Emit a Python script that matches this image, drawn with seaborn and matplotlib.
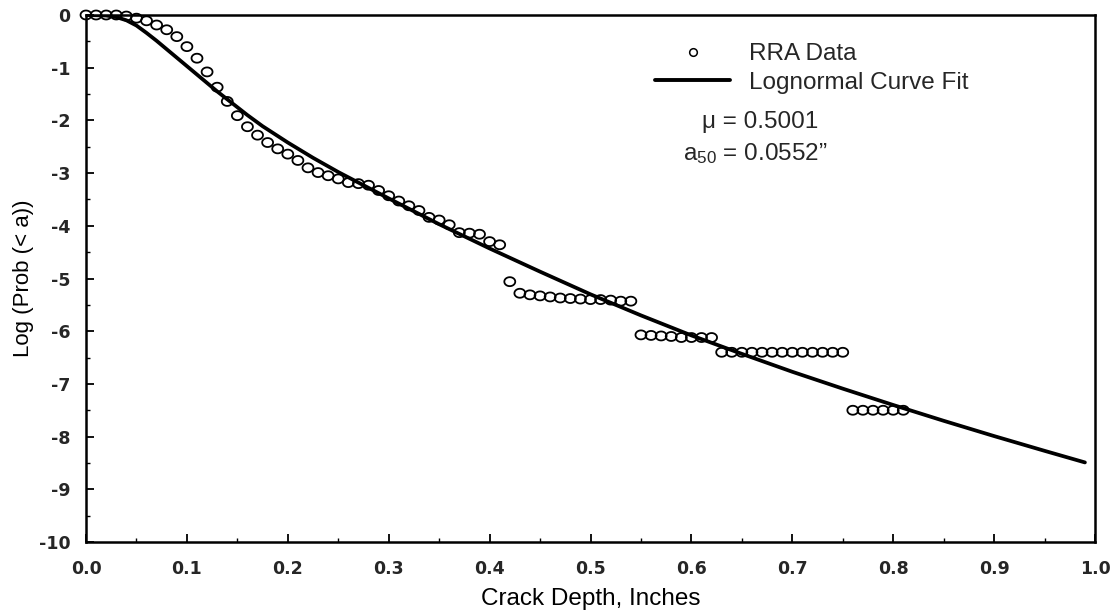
import numpy as np
import pandas as pd
import matplotlib
matplotlib.use("Agg")
import matplotlib.pyplot as plt
import seaborn as sns
from matplotlib.lines import Line2D
from matplotlib.path import Path
from matplotlib.ticker import MultipleLocator

# ---------------- data ----------------
rra_x = [0.00, 0.01, 0.02, 0.03, 0.04, 0.05, 0.06, 0.07, 0.08, 0.09,
         0.10, 0.11, 0.12, 0.13, 0.14, 0.15, 0.16, 0.17, 0.18, 0.19,
         0.20, 0.21, 0.22, 0.23, 0.24, 0.25, 0.26, 0.27, 0.28, 0.29,
         0.30, 0.31, 0.32, 0.33, 0.34, 0.35, 0.36, 0.37, 0.38, 0.39,
         0.40, 0.41, 0.42,
         0.43, 0.44, 0.45, 0.46, 0.47, 0.48, 0.49, 0.50, 0.51, 0.52, 0.53, 0.54,
         0.55, 0.56, 0.57, 0.58, 0.59, 0.60, 0.61, 0.62,
         0.63, 0.64, 0.65, 0.66, 0.67, 0.68, 0.69, 0.70, 0.71, 0.72, 0.73, 0.74, 0.75,
         0.76, 0.77, 0.78, 0.79, 0.80, 0.81]
rra_y = [0.00, 0.00, 0.00, 0.00, -0.02, -0.06, -0.11, -0.19, -0.28, -0.41,
         -0.60, -0.82, -1.08, -1.37, -1.64, -1.91, -2.12, -2.28, -2.42, -2.54,
         -2.64, -2.76, -2.90, -2.99, -3.05, -3.11, -3.18, -3.20, -3.23, -3.33,
         -3.43, -3.53, -3.62, -3.71, -3.84, -3.89, -3.98, -4.13, -4.14, -4.16,
         -4.30, -4.36, -5.06,
         -5.28, -5.31, -5.33, -5.35, -5.37, -5.38, -5.39, -5.40, -5.40, -5.41, -5.43, -5.43,
         -6.07, -6.08, -6.09, -6.10, -6.12, -6.12, -6.12, -6.12,
         -6.40, -6.40, -6.40, -6.40, -6.40, -6.40, -6.40, -6.40, -6.40, -6.40, -6.40, -6.40, -6.40,
         -7.50, -7.50, -7.50, -7.50, -7.50, -7.50]

fit_x = [0.00, 0.02, 0.03, 0.04, 0.05, 0.06, 0.07, 0.08, 0.09, 0.10,
         0.11, 0.12, 0.13, 0.14, 0.15, 0.16, 0.175, 0.20, 0.225, 0.25,
         0.275, 0.30, 0.35, 0.40, 0.45, 0.50, 0.55, 0.60, 0.65, 0.70,
         0.75, 0.80, 0.85, 0.90, 0.95, 0.99]
fit_y = [0.00, -0.01, -0.04, -0.10, -0.20, -0.34, -0.49, -0.65, -0.81, -0.97,
         -1.13, -1.29, -1.45, -1.60, -1.75, -1.90, -2.11, -2.42, -2.71, -2.98,
         -3.23, -3.48, -3.97, -4.43, -4.87, -5.30, -5.70, -6.08, -6.43, -6.77,
         -7.09, -7.40, -7.70, -7.99, -8.27, -8.49]

x_ticks = [0.0, 0.1, 0.2, 0.3, 0.4, 0.5, 0.6, 0.7, 0.8, 0.9, 1.0]
x_tick_labels = ["0.0", "0.1", "0.2", "0.3", "0.4", "0.5", "0.6", "0.7", "0.8", "0.9", "1.0"]
y_ticks = [0, -1, -2, -3, -4, -5, -6, -7, -8, -9, -10]
y_tick_labels = ["0", "-1", "-2", "-3", "-4", "-5", "-6", "-7", "-8", "-9", "-10"]

legend_labels = ["RRA Data", "Lognormal Curve Fit"]
mu_text = "μ = 0.5001"
a50_text = r"a$_{50}$ = 0.0552”"
x_label = "Crack Depth, Inches"
y_label = "Log (Prob (< a))"

rra_df = pd.DataFrame({"x": rra_x, "y": rra_y})
fit_df = pd.DataFrame({"x": fit_x, "y": fit_y})

# ---------------- style ----------------
sns.set_style("ticks")
plt.rcParams["font.family"] = ["Liberation Sans", "DejaVu Sans"]
plt.rcParams["axes.unicode_minus"] = False
plt.rcParams["mathtext.fontset"] = "custom"
plt.rcParams["mathtext.rm"] = "Liberation Sans"
plt.rcParams["mathtext.it"] = "Liberation Sans"

# slightly wide open ellipse marker (the scanned reference is stretched)
_t = np.linspace(0, 2 * np.pi, 49)
ellipse_marker = Path(np.column_stack([np.cos(_t), 0.82 * np.sin(_t)]), closed=True)

W, H = 1115, 616
fig = plt.figure(figsize=(W / 100, H / 100), dpi=100)
fig.patch.set_facecolor("white")
ax = fig.add_axes([86 / W, 1 - 542 / H, (1095 - 86) / W, (542 - 15) / H])
ax.set_facecolor("white")

sns.lineplot(data=fit_df, x="x", y="y", color="black", linewidth=2.7,
             sort=False, ax=ax, legend=False, zorder=2)
sns.scatterplot(data=rra_df, x="x", y="y", marker=ellipse_marker, s=62,
                facecolor="none", edgecolor="black", linewidth=1.3,
                ax=ax, legend=False, zorder=3, clip_on=False)

ax.set_xlim(0.0, 1.0)
ax.set_ylim(-10, 0)

ax.set_xticks(x_ticks)
ax.set_xticklabels(x_tick_labels, fontweight="bold", family="DejaVu Sans", fontsize=12.5)
ax.set_yticks(y_ticks)
ax.set_yticklabels(y_tick_labels, fontweight="bold", family="DejaVu Sans", fontsize=12.5)
ax.xaxis.set_minor_locator(MultipleLocator(0.05))
ax.yaxis.set_minor_locator(MultipleLocator(0.5))

ax.tick_params(axis="both", which="major", direction="in", length=6, width=1.3,
               top=False, right=False, color="black")
ax.tick_params(axis="both", which="minor", direction="in", length=3, width=1.0,
               top=False, right=False, color="black")
ax.tick_params(axis="x", which="major", pad=13)
ax.tick_params(axis="y", which="major", pad=11)

for sp in ax.spines.values():
    sp.set_visible(True)
    sp.set_linewidth(1.8)
    sp.set_color("black")

ax.set_xlabel(x_label, fontsize=17.5, labelpad=7, color="black")
ax.set_ylabel(y_label, fontsize=16, labelpad=4, color="black")

handles = [
    Line2D([], [], marker="o", linestyle="none", markerfacecolor="none",
           markeredgecolor="black", markersize=5.5, markeredgewidth=1.1),
    Line2D([], [], color="black", linewidth=2.8),
]
ax.legend(handles, legend_labels, loc="upper left",
          bbox_to_anchor=(655 / W, 1 - 43 / H), bbox_transform=fig.transFigure,
          frameon=False, fontsize=17.5, handlelength=3.1, handletextpad=0.75,
          labelspacing=0.28, borderpad=0, borderaxespad=0)

fig.text(702 / W, 1 - 128 / H, mu_text, fontsize=17.5, ha="left", va="baseline")
fig.text(683 / W, 1 - 160 / H, a50_text, fontsize=17.5, ha="left", va="baseline")

fig.savefig("out.png", dpi=100)
